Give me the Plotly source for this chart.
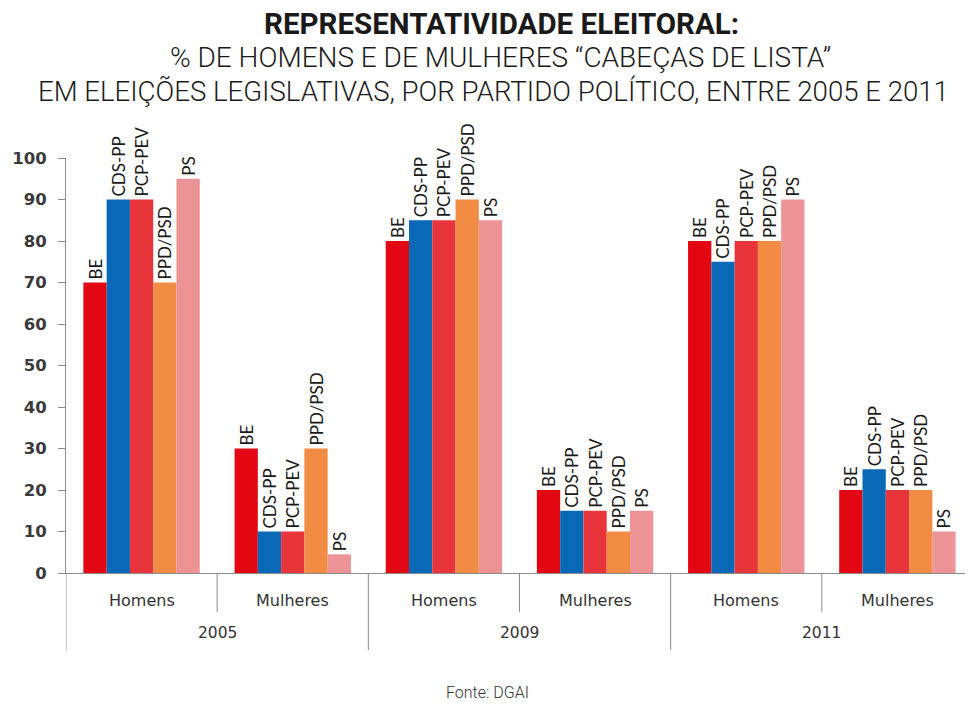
import plotly.graph_objects as go

years = ["2005", "2009", "2011"]
sexes = ["Homens", "Mulheres"]
groups = [(y, s) for y in years for s in sexes]

parties = ["BE", "CDS-PP", "PCP-PEV", "PPD/PSD", "PS"]
colors = ["#e30613", "#0a69b6", "#e8343b", "#f28b44", "#ec9396"]

BE = [70, 30, 80, 20, 80, 20]
CDS_PP = [90, 10, 85, 15, 75, 25]
PCP_PEV = [90, 10, 85, 15, 80, 20]
PPD_PSD = [70, 30, 90, 10, 80, 20]
PS = [95, 4.5, 85, 15, 90, 10]
values = [BE, CDS_PP, PCP_PEV, PPD_PSD, PS]

yticks = list(range(0, 101, 10))

title = "REPRESENTATIVIDADE ELEITORAL:"
subtitle1 = "% DE HOMENS E DE MULHERES “CABEÇAS DE LISTA”"
subtitle2 = "EM ELEIÇÕES LEGISLATIVAS, POR PARTIDO POLÍTICO, ENTRE 2005 E 2011"
source = "Fonte: DGAI"

xpos = list(range(len(groups)))
label_font = "Lato"
axis_font = "DejaVu Sans"

# the page body has an 8px margin; the figure is sized to the visible area
OFF = 8
W, H = 973 - OFF, 707 - OFF
PL, PT, PB = 66, 158, 573          # plot area edges in screen pixels
PW = 907


def px(xs):
    return (xs - PL) / PW


def py(ys):
    return (PB - ys) / (PB - PT)


fig = go.Figure()
for name, vals, col in zip(parties, values, colors):
    fig.add_trace(go.Bar(
        x=xpos, y=vals, name=name, marker=dict(color=col, line=dict(width=0)),
        text=[name] * len(vals), textposition="outside", textangle=-90,
        constraintext="none", cliponaxis=False,
        textfont=dict(family=label_font, size=17, color="#1a1a1a"),
    ))

for i, (y, s) in enumerate(groups):
    fig.add_annotation(x=i, y=py(600), xref="x", yref="paper", text=s, showarrow=False,
                       font=dict(family=axis_font, size=16, color="#333333"),
                       xanchor="center", yanchor="middle")
for j, y in enumerate(years):
    fig.add_annotation(x=2 * j + 0.5, y=py(633), xref="x", yref="paper", text=y, showarrow=False,
                       font=dict(family=axis_font, size=15.5, color="#333333"),
                       xanchor="center", yanchor="middle")

for k in range(len(groups) + 1):
    xb = k - 0.5
    long = (k % 2 == 0)
    fig.add_shape(type="line", xref="x", yref="paper", x0=xb, x1=xb, y0=0,
                  y1=py(650) if long else py(612),
                  line=dict(color="#8c8c8c", width=1))

fig.add_annotation(x=px(501), y=py(24), xref="paper", yref="paper", yanchor="middle",
                   xanchor="center", showarrow=False, text="<b>" + title + "</b>",
                   font=dict(family="Roboto", size=29.5, color="#1a1a1a"))
fig.add_annotation(x=px(500), y=py(57), xref="paper", yref="paper", yanchor="middle",
                   xanchor="center", showarrow=False, text=subtitle1,
                   font=dict(family="Roboto", size=28, color="#1a1a1a", weight=300))
fig.add_annotation(x=px(493), y=py(92), xref="paper", yref="paper", yanchor="middle",
                   xanchor="center", showarrow=False, text=subtitle2,
                   font=dict(family="Roboto", size=27.6, color="#1a1a1a", weight=300))
fig.add_annotation(x=px(487), y=py(692), xref="paper", yref="paper", yanchor="middle",
                   xanchor="center", showarrow=False, text=source,
                   font=dict(family="Roboto", size=16, color="#333333", weight=300))

fig.update_layout(
    width=W, height=H,
    margin=dict(l=PL - OFF, r=0, t=PT - OFF, b=H - (PB - OFF), autoexpand=False),
    paper_bgcolor="white", plot_bgcolor="white",
    barmode="group", bargap=0.23, bargroupgap=0,
    showlegend=False,
    xaxis=dict(range=[-0.5, 5.5], showticklabels=False, ticks="", showgrid=False,
               zeroline=False, showline=True, linecolor="#8c8c8c", linewidth=1),
    yaxis=dict(range=[0, 100], tickvals=yticks, ticks="outside", ticklen=7, tickcolor="#8c8c8c",
               ticklabelstandoff=8,
               showgrid=False, zeroline=False, showline=True, linecolor="#8c8c8c", linewidth=1,
               tickfont=dict(family=axis_font, size=16.5, color="#3a3a3a", weight="bold")),
)

fig.write_html("out.html")
